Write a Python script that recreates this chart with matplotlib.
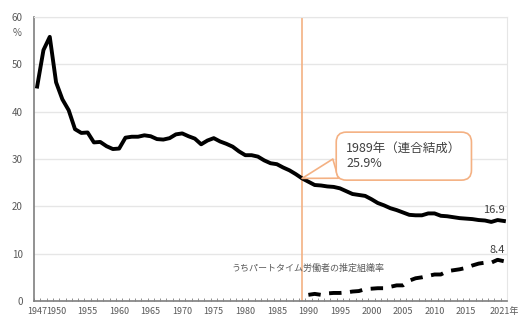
import matplotlib.pyplot as plt
import numpy as np

plt.rcParams['font.family'] = ['Noto Sans CJK JP', 'DejaVu Sans']

years = list(range(1947, 2022))
union_rate = [45.3, 53.0, 55.8, 46.2, 42.6, 40.3, 36.3, 35.5, 35.6, 33.5,
              33.6, 32.7, 32.1, 32.2, 34.5, 34.7, 34.7, 35.0, 34.8, 34.2,
              34.1, 34.4, 35.2, 35.4, 34.8, 34.3, 33.1, 33.9, 34.4, 33.7,
              33.2, 32.6, 31.6, 30.8, 30.8, 30.5, 29.7, 29.1, 28.9, 28.2,
              27.6, 26.8, 25.9, 25.2, 24.5, 24.4, 24.2, 24.1, 23.8, 23.2,
              22.6, 22.4, 22.2, 21.5, 20.7, 20.2, 19.6, 19.2, 18.7, 18.2,
              18.1, 18.1, 18.5, 18.5, 18.0, 17.9, 17.7, 17.5, 17.4, 17.3,
              17.1, 17.0, 16.7, 17.1, 16.9]
part_years = list(range(1990, 2022))
part_rate = [1.3, 1.5, 1.3, 1.6, 1.7, 1.7, 1.8, 2.0, 2.1, 2.5, 2.6, 2.7,
             2.7, 3.0, 3.3, 3.3, 4.3, 4.8, 5.0, 5.3, 5.6, 5.6, 6.3, 6.5,
             6.7, 7.0, 7.5, 7.9, 8.1, 8.1, 8.7, 8.4]
tick_years = [1947, 1950, 1955, 1960, 1965, 1970, 1975, 1980, 1985, 1990,
              1995, 2000, 2005, 2010, 2015, 2021]
tick_labels = [str(y) for y in tick_years[:-1]] + ['2021年']
marker_year = 1989

x_main = np.array(years) - years[0]
x_part = np.array(part_years) - years[0]

fig = plt.figure(figsize=(5.19, 3.20), dpi=100)
ax = fig.add_axes([0.0655, 0.0594, 0.9115, 0.8876])

gray = '#595959'
orange = '#F4B183'

ax.set_ylim(0, 60)
ax.set_xlim(-0.5, len(years) - 0.5)
ax.set_yticks(range(0, 61, 10))
ax.grid(axis='y', color='#E6E6E6', lw=1, zorder=0)
for s in ['top', 'right']:
    ax.spines[s].set_color('#E6E6E6')
for s in ['left', 'bottom']:
    ax.spines[s].set_color('#7F7F7F')
    ax.spines[s].set_linewidth(1.2)

ax.set_xticks([y - years[0] for y in tick_years])
ax.set_xticklabels(tick_labels)
ax.set_xticks(np.arange(-0.5, len(years)), minor=True)
ax.tick_params(axis='x', which='major', length=0, labelsize=6.5, labelcolor=gray, pad=4)
ax.tick_params(axis='x', which='minor', length=2.5, direction='in', color='#7F7F7F')
ax.tick_params(axis='y', length=0, labelsize=7, labelcolor=gray, pad=8)
ax.text(-0.035, 0.945, '%', transform=ax.transAxes, fontsize=7, color=gray,
        ha='center', va='center')

ax.axvline(marker_year - years[0], color=orange, lw=1.2, zorder=2)

ax.plot(x_main, union_rate, color='black', lw=2.8, zorder=3, solid_joinstyle='round')
ax.plot(x_part, part_rate, color='black', lw=2.8, zorder=3, dashes=(3.2, 2.2))

ax.text(x_main[-1] - 1.5, union_rate[-1] + 1.3, f'{union_rate[-1]}', fontsize=8,
        color='#404040', ha='center', va='bottom')
ax.text(x_part[-1] - 1, part_rate[-1] + 1.3, f'{part_rate[-1]}', fontsize=8,
        color='#404040', ha='center', va='bottom')
ax.text(30.8, 7.0, 'うちパートタイム労働者の推定組織率', fontsize=6.5, color=gray,
        ha='left', va='center')

i89 = years.index(marker_year)
ax.annotate(f'{marker_year}年（連合結成）\n{union_rate[i89]}%',
            xy=(x_main[i89], union_rate[i89]), xytext=(x_main[i89] + 7.0, 30.6),
            fontsize=9, color='#404040', ha='left', va='center', linespacing=1.2,
            bbox=dict(boxstyle='round,pad=0.8,rounding_size=0.8', fc='white',
                      ec=orange, lw=1.2),
            arrowprops=dict(arrowstyle='wedge,tail_width=1.6,shrink_factor=0.5',
                            fc='white', ec=orange, lw=1.2,
                            relpos=(0.03, 0.2), shrinkA=0, shrinkB=0),
            zorder=5)

fig.savefig('out.png', dpi=100)
